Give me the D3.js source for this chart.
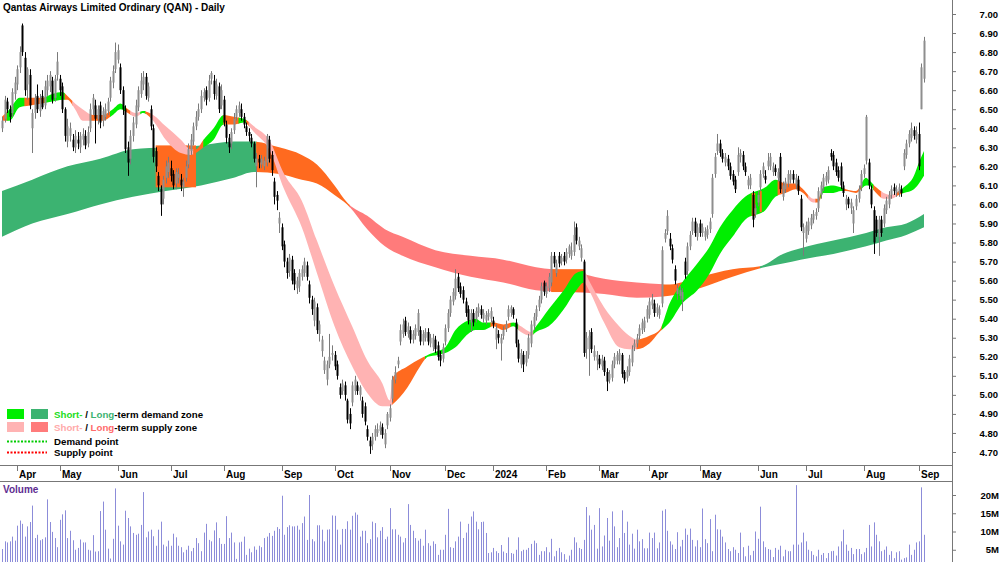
<!DOCTYPE html>
<html>
<head>
<meta charset="utf-8">
<script src="https://cdn.jsdelivr.net/npm/d3@7"></script>
<style>
body { margin: 0; background: #fff; }
svg text { font-family: "Liberation Sans", Arial, sans-serif; }
</style>
</head>
<body>
<script>
// daily candles, prices in cents, one value per trading day (index 0 = 24 Mar 2023)
const opens = [
640,645,654,650,648,658,663,672,694,677, 663,668,640,648,657,649,657,652,660,662,
665,656,668,666,662,650,633,636,634,630, 634,630,634,636,632,640,650,652,645,652,
644,646,649,656,664,671,676,672,660,650, 630,624,636,642,651,658,663,667,656,650,
640,628,615,608,603,614,617,619,616,611, 614,613,609,614,621,628,633,641,646,650,
656,660,656,666,665,657,662,652,655,642, 635,632,639,646,648,650,646,641,638,635,
632,620,624,621,620,622,634,626,612,605, 590,588,579,570,565,571,564,556,557,562,
564,568,558,550,539,546,532,523,513,508, 516,521,521,516,504,502,505,497,490,496,
502,505,500,497,494,482,476,474,478,480, 481,483,474,484,488,498,508,516,528,532,
539,532,534,529,531,533,534,528,530,533, 527,525,529,526,521,519,528,535,543,549,
552,562,557,555,549,545,538,543,540,543, 545,540,539,541,540,539,529,532,527,531,
535,541,543,545,538,527,516,521,517,521, 527,536,541,546,550,559,553,556,559,573,
564,573,570,573,571,574,573,575,588,578, 572,570,524,524,533,520,518,519,515,518,
512,508,509,516,518,518,521,512,509,512, 517,525,527,531,534,535,540,542,547,548,
543,542,548,582,586,582,577,566,553,552, 550,570,565,578,586,591,583,590,585,583,
584,587,595,616,628,632,627,622,624,620, 616,613,617,625,626,620,610,610,605,595,
601,609,616,615,620,620,617,619,614,625, 604,608,611,613,616,610,613,603,585,582,
586,589,592,594,598,605,609,612,613,627, 626,622,618,620,610,600,603,598,590,599,
603,609,616,623,622,608,597,592,583,592, 590,597,600,605,609,606,606,608,620,626,
632,635,639,634,637,650,666];
const highs = [
646,657,656,652,661,667,673,683,695,680, 672,671,650,658,663,658,660,665,668,670,
667,668,680,668,664,651,645,643,637,639, 638,638,640,639,641,653,658,655,652,654,
651,653,656,667,673,685,684,674,662,652, 633,639,646,655,662,669,670,669,664,652,
642,630,617,610,615,623,625,623,618,619, 619,616,614,623,632,637,643,649,653,660,
661,662,668,670,668,666,664,663,657,644, 637,640,648,652,654,653,648,643,640,637,
633,627,626,626,625,637,636,628,614,607, 596,590,581,572,574,573,566,562,566,568,
572,570,560,552,551,548,539,531,520,518, 532,526,523,518,506,508,507,498,493,507,
510,507,505,499,496,484,478,480,484,485, 486,485,482,491,495,510,515,520,537,540,
541,538,536,534,537,545,536,534,535,535, 532,532,531,528,523,527,537,545,552,556,
566,564,559,557,551,547,545,545,546,548, 547,545,544,545,546,541,537,534,532,536,
539,547,547,546,540,529,524,523,523,532, 539,543,547,552,559,560,559,564,575,575,
571,575,574,575,577,579,580,591,590,583, 579,571,533,534,535,526,523,521,521,520,
514,513,518,522,523,524,522,513,515,521, 526,529,532,537,540,541,547,551,553,550,
548,547,578,587,597,585,579,568,558,557, 556,572,580,586,593,593,590,592,590,588,
589,593,616,627,637,634,629,627,626,622, 618,615,630,629,628,622,615,616,607,600,
607,618,622,618,627,627,622,621,619,627, 612,614,618,618,618,616,615,605,590,591,
593,595,597,598,609,612,616,617,620,629, 628,624,620,622,612,605,604,603,599,605,
610,618,621,647,624,610,599,594,594,594, 600,604,607,610,611,610,611,610,629,634,
639,643,641,641,643,674,688];
const lows = [
638,643,648,643,646,655,660,669,678,657, 655,650,627,645,648,646,650,650,657,659,
653,654,665,657,648,633,630,633,628,627, 629,627,631,629,630,638,647,632,642,640,
641,644,647,654,661,669,674,658,647,627, 615,621,633,640,649,656,660,655,654,639,
622,617,607,594,600,611,614,612,608,608, 611,607,604,612,619,626,631,639,644,648,
654,652,654,663,655,655,648,650,641,632, 627,629,637,644,646,644,640,636,633,630,
622,609,619,619,618,620,622,615,600,597, 585,576,567,561,562,558,555,553,554,560,
562,560,548,542,536,532,528,520,511,505, 514,518,513,508,498,500,497,485,482,494,
500,500,497,488,484,476,469,471,476,478, 479,477,472,482,486,496,506,514,526,530,
531,530,527,527,529,531,526,526,528,526, 525,523,522,518,515,517,526,533,541,547,
550,554,551,548,541,537,533,536,538,541, 540,538,537,539,538,535,524,527,518,529,
533,539,541,540,525,517,514,512,515,519, 525,534,539,544,548,552,551,554,557,567,
562,567,568,568,569,572,571,573,579,576, 570,520,519,510,522,518,513,514,513,510,
502,506,507,514,516,516,509,506,507,510, 515,523,525,529,532,533,538,540,545,541,
541,540,546,580,584,576,569,558,550,550, 544,561,563,576,584,583,581,583,583,581,
582,585,593,614,626,625,622,620,618,613, 610,606,615,622,618,615,608,608,588,593,
599,607,614,611,618,618,615,615,612,606, 602,606,609,611,611,608,605,586,573,580,
584,587,590,592,596,603,607,610,611,623, 618,615,612,608,604,597,598,595,585,597,
601,607,614,621,608,598,574,583,573,583, 588,595,598,603,605,604,604,604,618,624,
630,633,634,632,618,650,664];
const closes = [
644,655,650,646,659,664,671,680,680,660, 671,652,648,656,650,655,651,662,665,668,
655,666,675,660,650,636,641,640,630,636, 632,636,637,631,638,650,656,645,650,643,
649,650,654,665,670,680,681,660,650,629, 622,636,643,652,660,665,667,657,662,641,
625,620,610,600,613,620,622,615,610,617, 616,610,612,620,629,634,641,646,650,657,
659,655,665,669,658,663,650,660,643,635, 630,638,645,650,652,646,642,638,636,632,
624,624,622,624,623,636,624,618,604,602, 593,578,570,564,572,560,558,560,564,566,
570,562,551,545,549,534,537,529,518,516, 520,522,515,510,500,506,500,487,485,505,
508,502,504,490,486,478,473,478,482,482, 484,479,480,490,493,508,512,518,534,537,
533,536,529,532,535,543,528,532,533,528, 530,530,524,520,518,525,535,543,550,554,
561,556,553,550,543,539,543,538,544,546, 542,543,542,543,544,537,535,530,530,534,
537,545,546,542,527,519,522,516,521,530, 537,541,545,550,557,554,557,562,573,569,
569,569,572,570,575,578,576,584,581,581, 577,522,530,531,524,523,521,516,519,512,
507,511,516,520,521,522,511,508,513,519, 524,527,530,535,538,539,545,549,550,543,
546,545,576,585,594,578,571,560,556,555, 554,563,578,584,591,585,588,585,588,586,
587,591,614,625,632,627,624,625,620,615, 612,608,626,627,620,617,613,614,592,598,
605,616,620,613,623,625,620,617,617,608, 610,612,616,616,613,614,607,588,588,589,
591,593,595,596,607,610,614,615,618,625, 620,617,614,610,606,603,600,601,597,603,
608,616,619,646,610,600,580,585,592,585, 598,602,605,608,607,608,609,606,627,632,
637,640,636,638,620,672,686];
// daily volume, millions of shares
const volumes = [
5.2,7.3,7.0,7.3,8.6,7.5,11.6,13.0,12.1,8.6, 11.4,12.6,17.1,8.2,9.1,7.6,7.9,8.4,18.8,12.6,
9.9,8.2,5.7,13.2,14.7,15.8,8.2,10.2,7.6,5.0, 5.5,7.8,7.0,7.0,5.0,4.8,9.0,4.5,4.6,15.6,
18.2,10.5,5.3,2.6,8.0,21.8,11.6,7.3,6.4,15.7, 13.7,11.4,9.6,9.1,9.4,11.8,20.8,8.4,10.0,10.5,
8.7,6.1,10.5,12.7,6.4,5.9,7.5,6.1,9.4,8.4, 6.1,5.7,4.3,5.0,6.1,4.6,5.5,8.2,6.8,4.6,
9.7,12.1,7.7,7.3,10.3,12.5,8.2,6.6,6.6,14.2, 8.2,9.7,7.0,2.5,7.0,7.2,8.6,3.6,5.3,4.3,
5.9,5.0,6.1,5.7,8.2,8.6,9.6,8.8,10.2,11.2, 10.7,19.8,9.1,11.2,11.7,11.4,11.4,11.6,10.5,12.3,
14.1,7.7,20.0,7.9,7.3,11.7,11.7,10.5,7.3,10.5, 10.6,14.4,14.3,10.5,6.4,10.7,10.7,12.8,10.5,14.3,
15.2,14.6,8.6,10.2,10.2,6.8,7.9,12.7,12.3,8.4, 10.2,11.2,7.9,8.6,16.4,10.6,10.6,9.1,8.6,7.0,
8.2,17.5,11.8,10.2,8.2,7.5,8.0,6.1,10.5,6.8, 6.1,7.3,6.6,3.6,5.0,5.0,9.1,16.2,5.7,5.5,
7.3,8.6,12.7,8.2,9.7,12.1,14.1,15.5,12.7,10.6, 12.6,12.7,9.6,4.1,4.3,5.5,4.6,4.1,6.3,4.5,
4.1,8.4,4.1,3.9,5.0,8.4,4.6,5.0,5.0,5.5, 6.6,7.5,6.8,3.6,4.6,4.6,5.7,4.3,8.0,3.2,
4.7,5.5,4.3,3.8,2.3,3.4,5.0,8.4,7.0,5.5, 5.2,7.7,16.7,14.4,10.5,11.8,5.3,16.4,5.9,8.9,
13.7,7.5,15.5,11.4,5.7,8.2,15.8,9.6,12.7,6.4, 9.4,5.3,10.5,7.3,7.9,5.4,5.4,9.7,8.2,9.7,
5.4,7.0,15.7,16.1,10.2,7.3,6.4,5.2,9.8,5.9, 7.7,10.8,9.1,10.8,7.7,5.9,7.6,5.7,16.3,7.9,
6.8,13.4,4.6,14.6,10.6,10.5,8.6,7.0,5.2,4.6, 5.7,5.0,4.1,9.7,5.7,3.2,6.1,3.5,4.7,10.0,
8.0,16.8,7.3,5.7,5.2,5.0,3.0,5.5,5.0,6.1, 3.2,5.0,4.6,4.6,6.4,22.7,6.4,7.0,9.7,7.3,
5.0,4.6,3.6,3.2,5.0,3.6,4.1,2.7,4.1,4.6, 4.7,3.4,5.9,7.3,10.5,6.4,4.7,5.5,3.8,5.2,
5.2,3.8,4.3,5.5,11.8,5.9,12.5,9.1,7.3,4.6, 5.0,5.9,3.6,4.6,2.7,4.3,4.6,2.3,2.7,2.9,
6.4,3.6,5.0,7.0,7.3,22.1,9.1];

// long-term zone edges, read at these trading-day indices
const longIdx = [0,12,26,39,52,65,79,92,100,110,119,125,132,137,145,152,159,172,186,199,212,225,239,252,265,277,290,301,310,317,330,343,351,359,366];
const longHi  = [6.07,6.13,6.20,6.24,6.29,6.30,6.31,6.33,6.33,6.30,6.26,6.21,6.10,6.01,5.94,5.87,5.83,5.76,5.73,5.71,5.67,5.65,5.61,5.59,5.58,5.62,5.66,5.675,5.74,5.77,5.81,5.85,5.88,5.90,5.95];
const longLo  = [5.83,5.90,5.95,6.00,6.04,6.07,6.10,6.14,6.17,6.16,6.13,6.11,6.05,6.00,5.87,5.78,5.73,5.67,5.62,5.59,5.55,5.54,5.53,5.51,5.52,5.56,5.62,5.665,5.69,5.71,5.74,5.78,5.81,5.84,5.88];
const longRunStart = [0,101,138,262,301];
const longRunZone  = ["ld","n","ls","n","ld"];

// short-term zone edges
const shortIdx = [0,3,7,11,16,20,24,26,29,32,36,40,44,47,50,53,56,60,65,71,75,77,80,84,88,92,96,100,106,112,119,125,132,139,145,151,154,155,161,166,169,173,176,180,185,188,191,195,199,203,206,210,212,217,223,228,231,233,239,245,249,252,257,261,265,270,276,281,285,290,295,303,307,311,315,318,322,324,326,330,333,335,339,343,344,347,350,353,356,358,362,364,366];
const shortHi = [6.46,6.50,6.56,6.56,6.56,6.58,6.59,6.57,6.53,6.50,6.47,6.47,6.50,6.53,6.50,6.48,6.49,6.47,6.41,6.34,6.29,6.29,6.34,6.40,6.47,6.46,6.45,6.41,6.34,6.16,6.02,5.81,5.57,5.36,5.18,5.06,4.97,5.09,5.15,5.19,5.21,5.23,5.25,5.34,5.39,5.40,5.38,5.38,5.37,5.38,5.36,5.33,5.36,5.45,5.55,5.64,5.65,5.60,5.46,5.36,5.31,5.29,5.31,5.34,5.48,5.59,5.69,5.78,5.88,5.97,6.04,6.09,6.13,6.11,6.11,6.08,6.03,6.03,6.09,6.10,6.09,6.08,6.07,6.14,6.13,6.09,6.06,6.05,6.07,6.09,6.15,6.22,6.28];
const shortLo = [6.44,6.44,6.51,6.52,6.53,6.54,6.55,6.55,6.50,6.44,6.44,6.44,6.47,6.50,6.48,6.46,6.48,6.44,6.34,6.27,6.26,6.27,6.30,6.34,6.42,6.42,6.43,6.38,6.29,6.08,5.88,5.64,5.36,5.15,5.01,4.94,4.94,4.95,5.04,5.15,5.20,5.21,5.22,5.25,5.32,5.34,5.34,5.36,5.34,5.36,5.33,5.31,5.33,5.36,5.45,5.55,5.59,5.55,5.38,5.25,5.24,5.24,5.27,5.33,5.38,5.48,5.55,5.64,5.74,5.83,5.92,5.97,6.04,6.06,6.08,6.06,6.01,6.01,6.06,6.06,6.07,6.07,6.06,6.10,6.10,6.06,6.03,6.03,6.05,6.06,6.08,6.11,6.15];
const shortRunStart = [0,2,9,17,25,28,35,43,49,51,55,57,59,76,80,88,94,97,98,155,168,194,202,205,211,231,252,262,308,320,323,325,334,341,346,349,355,357];
const shortRunZone  = ["n","sd","n","sd","n","ss","n","sd","n","ss","sd","n","ss","n","sd","n","sd","n","ss","n","sd","n","sd","ss","sd","ss","n","sd","n","ss","n","sd","n","sd","n","ss","n","sd"];

// extra orange pieces (long zone, and two thin strips in the short zone)
const patchStart = [61,218,297.6,300.8];
const patchEnd   = [77,231,299,301.6];
const patchHi    = [6.31,5.66,6.06,6.07];
const patchLo    = [6.09,5.54,5.94,5.96];
const patchOver  = [false,false,true,true];

const priceTicks = [4.7,4.8,4.9,5.0,5.1,5.2,5.3,5.4,5.5,5.6,5.7,5.8,5.9,6.0,6.1,6.2,6.3,6.4,6.5,6.6,6.7,6.8,6.9,7.0];
const volTicks = [5,10,15,20];
const monthIdx = [6,23,46,67,88,111,132,154,176,195,216,237,257,277,300,319,342,364];
const monthLabels = ["Apr","May","Jun","Jul","Aug","Sep","Oct","Nov","Dec","2024","Feb","Mar","Apr","May","Jun","Jul","Aug","Sep"];

const zoneColor = { sd: "#00ee00", ld: "#3cb371", ss: "#ffb3b3", ls: "#ff7b7b", n: "#ff6a1f" };

const W = 1000, H = 562, axisX = 952;
const svg = d3.select("body").append("svg").attr("width", W).attr("height", H);
svg.append("rect").attr("width", W).attr("height", H).attr("fill", "#fff");
const defs = svg.append("defs");

const x = d3.scaleLinear().domain([0, 366]).range([2, 924]);
const y = d3.scaleLinear().domain([4.7, 7.0]).range([452, 14]);
const yv = d3.scaleLinear().domain([0, 20]).range([568, 495]);

const plot = svg.append("g");

// zone ribbons, cut into coloured runs
function drawZone(idx, hi, lo, runStart, runZone, name) {
    const pts = idx.map((d, k) => ({ i: d, hi: hi[k], lo: lo[k] }));
    const area = d3.area()
        .x(d => x(d.i))
        .y0(d => y(d.lo))
        .y1(d => y(d.hi))
        .curve(d3.curveMonotoneX);
    const path = area(pts);
    runStart.forEach((s, k) => {
        const e = k < runStart.length - 1 ? runStart[k + 1] : 366;
        const id = name + k;
        defs.append("clipPath").attr("id", id).append("rect")
            .attr("x", x(s) - 0.3)
            .attr("width", x(e) - x(s) + 0.6)
            .attr("y", 0).attr("height", 465);
        plot.append("path")
            .attr("d", path)
            .attr("fill", zoneColor[runZone[k]])
            .attr("clip-path", `url(#${id})`);
    });
}

function drawPatches(over) {
    patchStart.forEach((s, k) => {
        if (patchOver[k] !== over) return;
        plot.append("rect")
            .attr("x", x(s))
            .attr("width", x(patchEnd[k]) - x(s))
            .attr("y", y(patchHi[k]))
            .attr("height", y(patchLo[k]) - y(patchHi[k]))
            .attr("fill", zoneColor.n);
    });
}

drawZone(longIdx, longHi, longLo, longRunStart, longRunZone, "lz");
drawPatches(false);
drawZone(shortIdx, shortHi, shortLo, shortRunStart, shortRunZone, "sz");
drawPatches(true);

// candles
const candles = opens.map((o, i) => ({ i, o: o / 100, h: highs[i] / 100, l: lows[i] / 100, c: closes[i] / 100 }));
const cg = plot.append("g");
cg.selectAll("line").data(candles).enter().append("line")
    .attr("x1", d => Math.round(x(d.i)) + 0.5)
    .attr("x2", d => Math.round(x(d.i)) + 0.5)
    .attr("y1", d => y(d.h))
    .attr("y2", d => y(d.l))
    .attr("stroke", d => d.c >= d.o ? "#7a7a7a" : "#000")
    .attr("stroke-width", 1);
cg.selectAll("rect").data(candles).enter().append("rect")
    .attr("x", d => Math.round(x(d.i)) - 0.5)
    .attr("width", 2)
    .attr("y", d => y(Math.max(d.o, d.c)))
    .attr("height", d => Math.max(1, Math.abs(y(d.o) - y(d.c))))
    .attr("fill", d => d.c >= d.o ? "#8e8e8e" : "#000");

// volume
svg.append("g").selectAll("line").data(volumes).enter().append("line")
    .attr("x1", (d, i) => Math.round(x(i)) + 0.5)
    .attr("x2", (d, i) => Math.round(x(i)) + 0.5)
    .attr("y1", yv(0))
    .attr("y2", d => yv(d))
    .attr("stroke", "#8c8cd9")
    .attr("stroke-width", 1);

// frame lines
svg.append("line").attr("x1", 0).attr("x2", axisX).attr("y1", 465.5).attr("y2", 465.5).attr("stroke", "#777");
svg.append("line").attr("x1", 0).attr("x2", axisX).attr("y1", 481.5).attr("y2", 481.5).attr("stroke", "#777");
svg.append("line").attr("x1", axisX + 0.5).attr("x2", axisX + 0.5).attr("y1", 0).attr("y2", H).attr("stroke", "#777");

// price axis
const pa = svg.append("g").attr("transform", `translate(${axisX},0)`)
    .call(d3.axisRight(y).tickValues(priceTicks).tickSize(4).tickFormat(d3.format(".2f")));
pa.select(".domain").remove();
pa.selectAll("line").attr("stroke", "#777");
pa.selectAll("text").attr("x", 46).attr("text-anchor", "end")
    .style("font-size", "9.5px").style("font-weight", "bold").attr("fill", "#000");

// volume axis
const va = svg.append("g").attr("transform", `translate(${axisX},0)`)
    .call(d3.axisRight(yv).tickValues(volTicks).tickSize(4).tickFormat(d => d + "M"));
va.select(".domain").remove();
va.selectAll("line").attr("stroke", "#777");
va.selectAll("text").attr("x", 47).attr("text-anchor", "end")
    .style("font-size", "9.5px").style("font-weight", "bold").attr("fill", "#000");

// month axis
const mg = svg.append("g");
monthIdx.forEach((m, k) => {
    const mx = Math.round(x(m)) + 0.5;
    mg.append("line").attr("x1", mx).attr("x2", mx).attr("y1", 466).attr("y2", 471).attr("stroke", "#777");
    mg.append("text").attr("x", mx + 1.5).attr("y", 478)
        .style("font-size", "10px").style("font-weight", "bold")
        .text(monthLabels[k]);
});

// titles
svg.append("text").attr("x", 3).attr("y", 11)
    .style("font-size", "10px").style("font-weight", "bold")
    .text("Qantas Airways Limited Ordinary (QAN) - Daily");
svg.append("text").attr("x", 3).attr("y", 493)
    .style("font-size", "10px").style("font-weight", "bold").attr("fill", "#5e2d91")
    .text("Volume");

// legend
const lg = svg.append("g");
lg.append("rect").attr("x", 7).attr("y", 409).attr("width", 17).attr("height", 10).attr("fill", zoneColor.sd);
lg.append("rect").attr("x", 31).attr("y", 409).attr("width", 17).attr("height", 10).attr("fill", zoneColor.ld);
lg.append("rect").attr("x", 7).attr("y", 422).attr("width", 17).attr("height", 10).attr("fill", zoneColor.ss);
lg.append("rect").attr("x", 31).attr("y", 422).attr("width", 17).attr("height", 10).attr("fill", zoneColor.ls);
lg.append("line").attr("x1", 7).attr("x2", 47).attr("y1", 441.5).attr("y2", 441.5)
    .attr("stroke", "#00cc00").attr("stroke-width", 2).attr("stroke-dasharray", "2,1.5");
lg.append("line").attr("x1", 7).attr("x2", 47).attr("y1", 452.5).attr("y2", 452.5)
    .attr("stroke", "#ff0000").attr("stroke-width", 2).attr("stroke-dasharray", "2,1.5");

function legendText(yy, parts) {
    const t = lg.append("text").attr("x", 54).attr("y", yy)
        .style("font-size", "9.7px").style("font-weight", "bold");
    parts.forEach(p => t.append("tspan").attr("fill", p[1]).text(p[0]));
}
legendText(418, [["Short-", "#22dd22"], [" / ", "#000"], ["Long", "#3cb371"], ["-term demand zone", "#000"]]);
legendText(431, [["Short-", "#ffaaaa"], [" / ", "#000"], ["Long", "#ff6b6b"], ["-term supply zone", "#000"]]);
legendText(445, [["Demand point", "#000"]]);
legendText(456, [["Supply point", "#000"]]);
</script>
</body>
</html>
